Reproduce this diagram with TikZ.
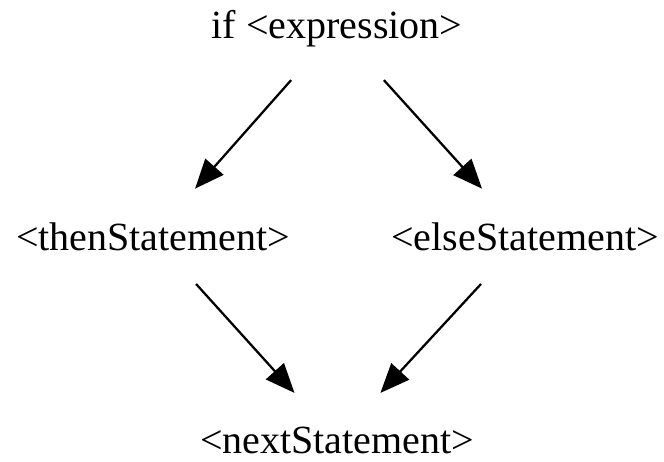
\documentclass[tikz,border=0pt]{standalone}
\usepackage{fontspec}
\setmainfont{Liberation Serif}
\usetikzlibrary{positioning,arrows.meta}
\begin{document}
\begin{tikzpicture}[x=0.75pt,y=-0.75pt,
  stmt/.style={font=\fontsize{30}{36}\selectfont,inner xsep=0pt,inner ysep=25pt,anchor=base},
  flow/.style={line width=1.7pt,-{Triangle[length=22pt,width=18pt]}}]
\useasboundingbox (0,0) rectangle (664,461);
\node(cond)[stmt] at (337,38) {if <expression>};
\node(then)[stmt] at (153,250) {<thenStatement>};
\node(else)[stmt] at (525,250) {<elseStatement>};
\node(next)[stmt] at (337,453) {<nextStatement>};
\draw[flow] (cond) -- (then);
\draw[flow] (cond) -- (else);
\draw[flow] (then) -- (next);
\draw[flow] (else) -- (next);
\end{tikzpicture}
\end{document}
